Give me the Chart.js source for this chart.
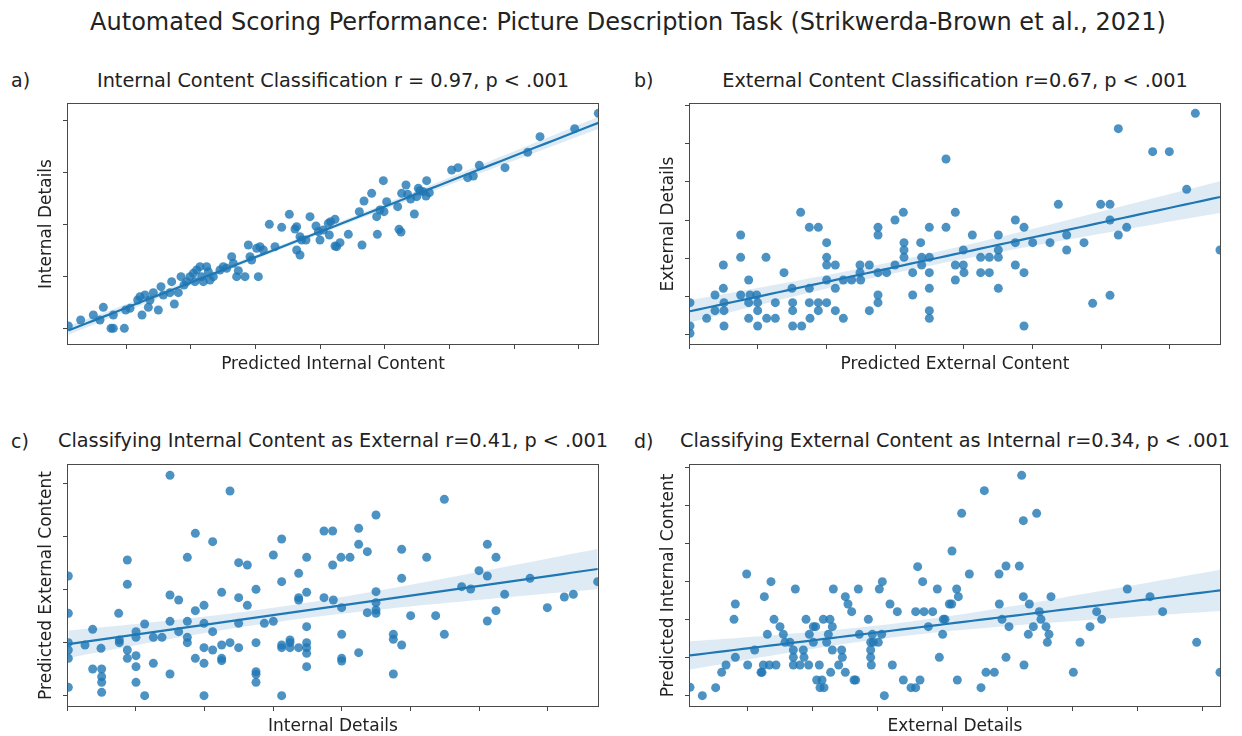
<!DOCTYPE html>
<html>
<head>
<meta charset="utf-8">
<script src="https://cdn.jsdelivr.net/npm/chart.js@4.4.1/dist/chart.umd.min.js"></script>
<style>
  body { margin: 0; background: #fff; }
  #page { position: relative; width: 1242px; height: 736px; font-family: "DejaVu Sans", sans-serif; color: #222; }
  .txt { position: absolute; white-space: nowrap; line-height: 1; transform: translate(-50%, -50%); }
  .tag { position: absolute; white-space: nowrap; line-height: 1; transform: translateY(-50%); font-size: 19px; }
  canvas { position: absolute; }
</style>
</head>
<body>
<div id="page">
  <div class="txt" style="left:628px; top:22px; font-size:24px;">Automated Scoring Performance: Picture Description Task (Strikwerda-Brown et al., 2021)</div>

  <div class="tag" style="left:11px; top:80px;">a)</div>
  <div class="tag" style="left:634px; top:80px;">b)</div>
  <div class="tag" style="left:11px; top:441px;">c)</div>
  <div class="tag" style="left:634px; top:441px;">d)</div>

  <div class="txt" id="titleA" style="left:333px; top:81px; font-size:19.3px;"></div>
  <div class="txt" id="titleB" style="left:955px; top:81px; font-size:19.3px;"></div>
  <div class="txt" id="titleC" style="left:333px; top:441px; font-size:19.3px;"></div>
  <div class="txt" id="titleD" style="left:955px; top:441px; font-size:19.3px;"></div>

  <canvas id="chartA" width="615" height="288" style="left:0px; top:97px;"></canvas>
  <canvas id="chartB" width="615" height="288" style="left:622px; top:97px;"></canvas>
  <canvas id="chartC" width="615" height="289" style="left:0px; top:458px;"></canvas>
  <canvas id="chartD" width="615" height="289" style="left:622px; top:458px;"></canvas>
</div>

<script>
// subplot headings
const panelTitles = [
  'Internal Content Classification r = 0.97, p < .001',
  'External Content Classification r=0.67, p < .001',
  'Classifying Internal Content as External r=0.41, p < .001',
  'Classifying External Content as Internal r=0.34, p < .001'
];

// a) predicted internal content (x) vs internal details (y)
const internalPredicted = [
  4, 41, 79, 99, 109, 132, 139, 139, 172, 176, 189, 212, 219, 225, 234, 244, 249, 259, 274, 282,
  289, 309, 314, 322, 334, 342, 351, 359, 369, 379, 384, 389, 399, 404, 409, 419, 424, 429, 439, 459,
  469, 479, 494, 499, 509, 514, 534, 544, 549, 554, 569, 574, 579, 589, 607, 624, 644, 667, 684, 689,
  699, 689, 699, 704, 717, 729, 747, 754, 759, 769, 784, 787, 791, 804, 804, 809, 819, 844, 877, 885,
  891, 914, 929, 931, 939, 949, 951, 959, 992, 996, 1002, 1004, 1017, 1022, 1031, 1042, 1049, 1054, 1059, 1069,
  1077, 1079, 1087, 1154, 1173, 1202, 1219, 1237, 1314, 1382, 1419, 1523, 1594
];
const internalDetails = [
  57, 75, 90, 75, 113, 50, 50, 90, 50, 105, 110, 135, 145, 90, 150, 113, 135, 157, 105, 175,
  150, 157, 190, 123, 157, 205, 180, 190, 205, 215, 190, 225, 235, 205, 190, 235, 220, 195, 205, 225,
  235, 230, 265, 245, 205, 223, 205, 300, 265, 255, 290, 205, 295, 285, 362, 295, 353, 392, 348, 355,
  325, 285, 270, 315, 315, 385, 357, 340, 315, 345, 365, 330, 370, 377, 297, 295, 307, 332, 400, 300,
  432, 455, 385, 332, 405, 493, 400, 430, 415, 347, 339, 455, 480, 452, 438, 393, 445, 470, 463, 460,
  447, 493, 457, 525, 532, 502, 507, 539, 532, 578, 625, 649, 695
];

// b) predicted external content (x) vs external details (y)
const externalPredicted = [
  3, 3, 3, 53, 78, 78, 103, 103, 105, 105, 105, 155, 155, 155, 179, 179, 179, 183, 203, 206,
  206, 206, 231, 233, 259, 259, 285, 309, 311, 311, 311, 335, 338, 361, 361, 361, 363, 388, 388, 388,
  413, 413, 413, 413, 413, 439, 439, 439, 463, 463, 488, 513, 513, 515, 541, 541, 567, 567, 567, 567,
  567, 593, 618, 618, 643, 645, 645, 645, 671, 671, 695, 698, 698, 721, 721, 721, 721, 721, 721, 771,
  771, 799, 799, 799, 823, 823, 825, 850, 875, 875, 901, 901, 928, 928, 928, 928, 979, 979, 979, 1005,
  1005, 1005, 1031, 1083, 1108, 1133, 1133, 1185, 1211, 1235, 1263, 1263, 1263, 1288, 1288, 1313, 1391, 1441, 1493, 1519,
  1593
];
const externalDetails = [
  127, 57, 35, 80, 150, 103, 240, 170, 127, 103, 57, 330, 263, 150, 195, 127, 80, 150, 150, 127,
  103, 57, 263, 80, 127, 80, 217, 170, 127, 103, 57, 398, 57, 353, 170, 127, 80, 353, 127, 103,
  307, 263, 240, 195, 127, 240, 170, 103, 195, 80, 195, 240, 217, 195, 240, 103, 353, 330, 217, 150,
  127, 217, 375, 240, 398, 307, 285, 263, 217, 150, 307, 263, 240, 353, 263, 217, 170, 103, 80, 558,
  353, 398, 240, 195, 285, 240, 217, 330, 263, 217, 263, 217, 330, 285, 263, 170, 375, 307, 240, 353,
  217, 57, 307, 307, 422, 330, 285, 307, 125, 422, 422, 375, 149, 649, 330, 353, 580, 580, 467, 695,
  285
];

// c) internal details (x) vs predicted external content (y)
const internalAsExternalX = [
  4, 4, 4, 4, 4, 4, 54, 77, 77, 102, 104, 104, 104, 104, 155, 157, 157, 181, 181, 181,
  181, 207, 207, 207, 207, 207, 233, 233, 259, 259, 285, 309, 309, 309, 309, 335, 335, 361, 361, 361,
  361, 385, 385, 385, 411, 411, 411, 411, 411, 437, 437, 437, 464, 464, 464, 464, 489, 489, 515, 515,
  515, 515, 541, 541, 567, 567, 567, 567, 567, 592, 619, 619, 644, 644, 644, 644, 644, 669, 669, 669,
  695, 695, 695, 695, 719, 719, 719, 719, 719, 719, 719, 771, 771, 797, 797, 799, 822, 824, 824, 824,
  824, 849, 875, 875, 875, 901, 901, 927, 927, 927, 927, 927, 979, 979, 979, 1004, 1004, 1004, 1031, 1079,
  1106, 1132, 1132, 1184, 1211, 1236, 1261, 1261, 1261, 1287, 1287, 1313, 1389, 1441, 1492, 1519, 1592
];
const internalAsExternalY = [
  393, 281, 193, 171, 146, 59, 186, 233, 114, 176, 114, 91, 74, 44, 281, 201, 193, 441, 368, 171,
  146, 226, 209, 154, 121, 74, 249, 34, 209, 131, 209, 695, 336, 257, 99, 321, 226, 449, 257, 209,
  193, 521, 289, 146, 305, 251, 178, 131, 34, 496, 226, 171, 344, 186, 146, 139, 648, 193, 433, 328,
  251, 178, 426, 305, 353, 193, 106, 98, 74, 251, 456, 257, 504, 376, 186, 178, 34, 201, 193, 178,
  401, 328, 321, 178, 449, 344, 241, 193, 178, 161, 121, 528, 328, 528, 426, 321, 449, 298, 218, 146,
  138, 449, 536, 488, 163, 466, 283, 576, 346, 313, 291, 281, 218, 203, 99, 473, 386, 186, 274, 449,
  274, 623, 218, 361, 354, 409, 488, 393, 258, 449, 289, 338, 386, 298, 330, 338, 376
];

// d) external details (x) vs predicted internal content (y)
const externalAsInternalX = [
  3, 40, 80, 98, 111, 139, 135, 139, 173, 176, 197, 216, 219, 223, 226, 235, 241, 246, 255, 261,
  273, 283, 288, 303, 313, 313, 313, 319, 333, 343, 345, 351, 359, 361, 373, 373, 380, 383, 391, 393,
  399, 403, 405, 413, 418, 423, 425, 430, 430, 433, 449, 458, 460, 469, 469, 477, 488, 495, 500, 508,
  511, 538, 545, 545, 545, 547, 550, 553, 568, 571, 578, 580, 586, 603, 610, 625, 643, 666, 680, 680,
  686, 693, 701, 705, 718, 731, 745, 751, 761, 763, 768, 781, 788, 789, 803, 808, 805, 818, 841, 876,
  886, 891, 916, 930, 931, 939, 951, 951, 960, 991, 998, 1003, 1003, 1005, 1018, 1021, 1033, 1043, 1051, 1056,
  1071, 1080, 1075, 1086, 1153, 1173, 1203, 1223, 1238, 1315, 1383, 1421, 1523, 1593
];
const externalAsInternalY = [
  59, 34, 58, 104, 126, 309, 263, 149, 399, 126, 171, 104, 104, 126, 331, 218, 126, 376, 263, 126,
  241, 218, 194, 194, 171, 149, 126, 354, 126, 171, 149, 263, 126, 218, 241, 194, 241, 81, 126, 58,
  81, 263, 58, 194, 218, 263, 104, 241, 171, 354, 126, 171, 149, 331, 104, 309, 286, 81, 81, 354,
  218, 263, 194, 171, 149, 126, 218, 194, 194, 354, 218, 376, 34, 309, 126, 286, 81, 58, 58, 286,
  421, 81, 376, 286, 241, 286, 354, 149, 218, 263, 263, 309, 309, 468, 354, 331, 81, 581, 399, 58,
  649, 104, 104, 399, 309, 263, 423, 149, 241, 423, 695, 559, 331, 126, 218, 309, 241, 581, 286, 263,
  241, 218, 194, 331, 104, 194, 241, 286, 263, 354, 331, 286, 194, 104
];

// tick positions (the axes carry tick marks only, no labels)
const ticksAx = [177, 371, 565, 759, 953, 1147, 1341, 1535];
const ticksAy = [50, 206, 362, 517, 673];
const ticksBx = [0, 206, 412, 618, 824, 1030, 1236, 1442];
const ticksBy = [32, 146, 261, 375, 490, 604, 719];
const ticksCx = [0, 206, 412, 618, 824, 1030, 1236, 1442];
const ticksCy = [34, 194, 353, 513, 671];
const ticksDx = [176, 371, 566, 761, 955, 1150, 1345, 1540];
const ticksDy = [34, 148, 263, 377, 491, 605, 719];

const BLUE = '#1f77b4';
const FONT = 'DejaVu Sans';

// ordinary least squares + 95% confidence band of the mean
function regression(xs, ys) {
  const n = xs.length;
  const mx = xs.reduce((s, v) => s + v, 0) / n;
  const my = ys.reduce((s, v) => s + v, 0) / n;
  let sxx = 0, sxy = 0;
  for (let i = 0; i < n; i++) {
    sxx += (xs[i] - mx) * (xs[i] - mx);
    sxy += (xs[i] - mx) * (ys[i] - my);
  }
  const slope = sxy / sxx;
  const icpt = my - slope * mx;
  let sse = 0;
  for (let i = 0; i < n; i++) {
    const r = ys[i] - (icpt + slope * xs[i]);
    sse += r * r;
  }
  const s = Math.sqrt(sse / (n - 2));
  const lo = Math.min(...xs), hi = Math.max(...xs);
  const line = [], upper = [], lower = [];
  const steps = 60;
  for (let k = 0; k <= steps; k++) {
    const x = lo + (hi - lo) * k / steps;
    const yhat = icpt + slope * x;
    const half = 1.98 * s * Math.sqrt(1 / n + (x - mx) * (x - mx) / sxx);
    line.push({ x, y: yhat });
    upper.push({ x, y: yhat + half });
    lower.push({ x, y: yhat - half });
  }
  return { line, upper, lower };
}

// box around the plot area
const framePlugin = {
  id: 'frame',
  afterDatasetsDraw(chart) {
    const { ctx, chartArea: a } = chart;
    ctx.save();
    ctx.strokeStyle = '#4a4a4a';
    ctx.lineWidth = 1;
    ctx.strokeRect(a.left + 0.5, a.top + 0.5, a.right - a.left - 1, a.bottom - a.top - 1);
    ctx.restore();
  }
};

function axis(max, ticks, title, isX) {
  return {
    type: 'linear',
    min: 0,
    max: max,
    afterBuildTicks: s => { s.ticks = ticks.map(v => ({ value: v })); },
    afterFit: s => { if (isX) s.height = 40; else s.width = 67; },
    ticks: { display: false },
    grid: { drawOnChartArea: false, drawTicks: true, tickLength: 4, color: '#444', lineWidth: 1 },
    border: { display: false },
    title: {
      display: true,
      text: title,
      color: '#222',
      font: { family: FONT, size: 17 },
      padding: isX ? { top: 0, bottom: 10 } : { top: 36, bottom: 0 }
    }
  };
}

function drawPanel(id, xs, ys, xTicks, yTicks, xTitle, yTitle, yMax) {
  const reg = regression(xs, ys);
  const pts = xs.map((x, i) => ({ x, y: ys[i] }));
  new Chart(document.getElementById(id), {
    type: 'scatter',
    data: {
      datasets: [
        { type: 'line', data: reg.line, borderColor: BLUE, borderWidth: 2.2, pointRadius: 0, fill: false, order: 1, clip: 0 },
        { type: 'line', data: reg.upper, borderWidth: 0, pointRadius: 0, fill: '+1', backgroundColor: 'rgba(31,119,180,0.15)', order: 2, clip: 0 },
        { type: 'line', data: reg.lower, borderWidth: 0, pointRadius: 0, fill: false, order: 2, clip: 0 },
        { data: pts, backgroundColor: 'rgba(31,119,180,0.8)', borderWidth: 0, pointRadius: 4.5, order: 3, clip: 0 }
      ]
    },
    options: {
      responsive: false,
      animation: false,
      events: [],
      layout: { padding: { top: 6, right: 16, left: 0, bottom: 0 } },
      plugins: { legend: { display: false }, tooltip: { enabled: false } },
      scales: {
        x: axis(1596, xTicks, xTitle, true),
        y: axis(yMax, yTicks, yTitle, false)
      }
    },
    plugins: [framePlugin]
  });
}

['titleA', 'titleB', 'titleC', 'titleD'].forEach((id, i) => {
  document.getElementById(id).textContent = panelTitles[i];
});

drawPanel('chartA', internalPredicted, internalDetails, ticksAx, ticksAy,
  'Predicted Internal Content', 'Internal Details', 726);
drawPanel('chartB', externalPredicted, externalDetails, ticksBx, ticksBy,
  'Predicted External Content', 'External Details', 726);
drawPanel('chartC', internalAsExternalX, internalAsExternalY, ticksCx, ticksCy,
  'Internal Details', 'Predicted External Content', 729);
drawPanel('chartD', externalAsInternalX, externalAsInternalY, ticksDx, ticksDy,
  'External Details', 'Predicted Internal Content', 729);
</script>
</body>
</html>
